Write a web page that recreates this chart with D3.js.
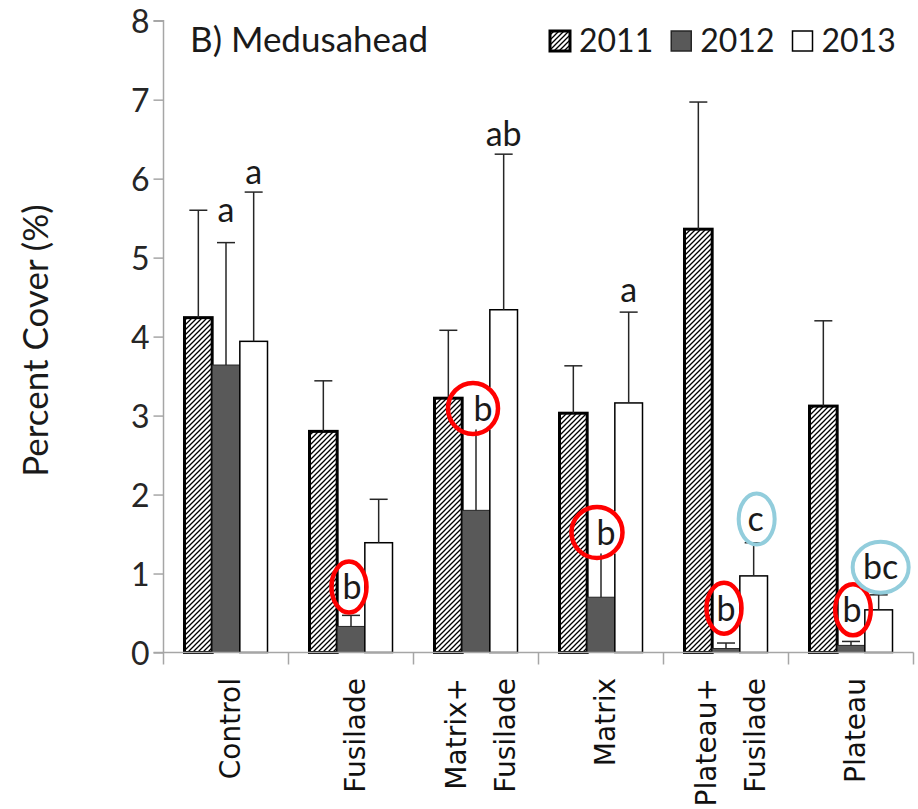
<!DOCTYPE html>
<html>
<head>
<meta charset="utf-8">
<script src="https://cdn.jsdelivr.net/npm/d3@7"></script>
<style>
  body { margin: 0; background: #fff; }
  svg { display: block; }
</style>
</head>
<body>
<svg width="918" height="809"></svg>
<script>
// datos
const categories = ["Control", "Fusilade", "Matrix+\nFusilade", "Matrix", "Plateau+\nFusilade", "Plateau"];
const years = ["2011", "2012", "2013"];
const cover2011 = [4.24, 2.80, 3.22, 3.03, 5.36, 3.12];
const cover2012 = [3.64, 0.33, 1.80, 0.70, 0.05, 0.09];
const cover2013 = [3.94, 1.39, 4.34, 3.16, 0.97, 0.54];
const err2011 = [1.36, 0.64, 0.86, 0.60, 1.61, 1.08];
const err2012 = [1.55, 0.14, 1.32, 0.85, 0.07, 0.05];
const err2013 = [1.89, 0.55, 1.97, 1.15, 0.42, 0.19];
const yTicks = [0, 1, 2, 3, 4, 5, 6, 7, 8];

// letras de significancia (posicion en unidades del eje y)
const letters = [
  { cat: "Control", year: "2012", text: "a", at: 5.56 },
  { cat: "Control", year: "2013", text: "a", at: 6.04 },
  { cat: "Matrix+\nFusilade", year: "2013", text: "ab", at: 6.52 },
  { cat: "Matrix", year: "2013", text: "a", at: 4.54 }
];
const rings = [
  { cat: "Fusilade", year: "2012", text: "b", at: 0.83, color: "red", rx: 17.5, dx: -2, tx: 1 },
  { cat: "Matrix+\nFusilade", year: "2012", text: "b", at: 3.09, color: "red", rx: 25, dx: -3, tx: 7 },
  { cat: "Matrix", year: "2012", text: "b", at: 1.52, color: "red", rx: 25.5, dx: -4, tx: 5 },
  { cat: "Plateau+\nFusilade", year: "2012", text: "b", at: 0.56, color: "red", rx: 17.5, dx: -2, tx: 0 },
  { cat: "Plateau", year: "2012", text: "b", at: 0.54, color: "red", rx: 17.8, dx: 2, tx: 1 },
  { cat: "Plateau+\nFusilade", year: "2013", text: "c", at: 1.69, color: "blue", rx: 18, dx: 3, tx: 2 },
  { cat: "Plateau", year: "2013", text: "bc", at: 1.08, color: "blue", rx: 28, dx: 2, tx: 2 }
];

const svg = d3.select("svg");
const font = "Lato, 'Open Sans', sans-serif";

const y = d3.scaleLinear().domain([0, 8]).range([652.5, 20.7]);
const x0 = d3.scaleBand().domain(categories).range([163.5, 913.5]).padding(0);
const groupW = x0.bandwidth() * 0.664;
const x1 = d3.scaleBand().domain(years).range([0, groupW]);
const off = (x0.bandwidth() - groupW) / 2;
const xBar = (c, yr) => x0(c) + off + x1(yr);
const xMid = (c, yr) => xBar(c, yr) + x1.bandwidth() / 2;

const series = [cover2011, cover2012, cover2013];
const errs = [err2011, err2012, err2013];
const rows = [];
categories.forEach((c, i) => years.forEach((yr, j) => {
  rows.push({ cat: c, year: yr, v: series[j][i], e: errs[j][i] });
}));

// patron rayado para 2011
const defs = svg.append("defs");
const pat = defs.append("pattern")
  .attr("id", "hatch")
  .attr("patternUnits", "userSpaceOnUse")
  .attr("width", 5).attr("height", 5);
pat.append("rect").attr("width", 5).attr("height", 5).attr("fill", "#fff");
pat.append("path")
  .attr("d", "M0,5 L5,0 M-1,1 L1,-1 M4,6 L6,4")
  .attr("stroke", "#000").attr("stroke-width", 1.3);

const barStyle = {
  "2011": { fill: "url(#hatch)", stroke: "#000", sw: 3 },
  "2012": { fill: "#595959", stroke: "#262626", sw: 1 },
  "2013": { fill: "#fff", stroke: "#000", sw: 1.5 }
};

// barras
svg.append("g").selectAll("rect")
  .data(rows)
  .join("rect")
  .attr("x", d => xBar(d.cat, d.year))
  .attr("y", d => y(d.v))
  .attr("width", x1.bandwidth())
  .attr("height", d => y(0) - y(d.v))
  .attr("fill", d => barStyle[d.year].fill)
  .attr("stroke", d => barStyle[d.year].stroke)
  .attr("stroke-width", d => barStyle[d.year].sw);

// barras de error (solo hacia arriba)
const eb = svg.append("g").attr("stroke", "#262626").attr("stroke-width", 1.5);
eb.selectAll("line.v")
  .data(rows)
  .join("line")
  .attr("class", "v")
  .attr("x1", d => xMid(d.cat, d.year)).attr("x2", d => xMid(d.cat, d.year))
  .attr("y1", d => y(d.v)).attr("y2", d => y(d.v + d.e));
eb.selectAll("line.cap")
  .data(rows)
  .join("line")
  .attr("class", "cap")
  .attr("x1", d => xMid(d.cat, d.year) - 9).attr("x2", d => xMid(d.cat, d.year) + 9)
  .attr("y1", d => y(d.v + d.e)).attr("y2", d => y(d.v + d.e));

// eje y
const yAxis = svg.append("g")
  .attr("transform", `translate(${x0.range()[0]},0)`)
  .call(d3.axisLeft(y).tickValues(yTicks).tickSize(10).tickPadding(4).tickFormat(d3.format("d")));
yAxis.select(".domain").attr("stroke", "#a6a6a6").attr("stroke-width", 1.5).attr("d", `M-10,${y(8)}H0V${y(0)}`);
yAxis.selectAll(".tick line").attr("stroke", "#a6a6a6").attr("stroke-width", 1.5);
yAxis.selectAll(".tick text")
  .attr("font-family", font).attr("font-size", 32).attr("fill", "#262626").attr("dy", "0.36em");

// eje x
const xg = svg.append("g");
xg.append("line")
  .attr("x1", x0.range()[0] - 10).attr("x2", x0.range()[1])
  .attr("y1", y(0)).attr("y2", y(0))
  .attr("stroke", "#a6a6a6").attr("stroke-width", 1.5);
const bounds = categories.map(c => x0(c)).concat([x0.range()[1]]);
xg.selectAll("line.tk")
  .data(bounds)
  .join("line")
  .attr("class", "tk")
  .attr("x1", d => d).attr("x2", d => d)
  .attr("y1", y(0)).attr("y2", y(0) + 12)
  .attr("stroke", "#a6a6a6").attr("stroke-width", 1.5);

categories.forEach(c => {
  const lines = c.split("\n");
  const cx = x0(c) + x0.bandwidth() / 2;
  lines.forEach((t, i) => {
    const bx = cx + 14 + (i - (lines.length - 1) / 2) * 49;
    xg.append("text")
      .attr("transform", `translate(${bx},678) rotate(-90)`)
      .attr("text-anchor", "end")
      .attr("font-family", "'DejaVu Sans', Verdana, sans-serif")
      .attr("font-size", 28)
      .attr("fill", "#111")
      .text(t);
  });
});

// titulo del eje y
svg.append("text")
  .attr("transform", `translate(48,${(y(0) + y(8)) / 2 + 4}) rotate(-90)`)
  .attr("text-anchor", "middle")
  .attr("font-family", font).attr("font-size", 35).attr("fill", "#1a1a1a")
  .text("Percent Cover (%)");

// titulo del panel
svg.append("text")
  .attr("x", 190).attr("y", 52)
  .attr("font-family", font).attr("font-size", 35).attr("fill", "#1a1a1a")
  .text("B) Medusahead");

// leyenda
let lx = 550;
years.forEach(yr => {
  const st = barStyle[yr];
  svg.append("rect")
    .attr("x", lx).attr("y", 31).attr("width", 20).attr("height", 20)
    .attr("fill", st.fill).attr("stroke", st.stroke).attr("stroke-width", yr === "2011" ? 3 : 1.5);
  const t = svg.append("text")
    .attr("x", lx + 29).attr("y", 51.5)
    .attr("font-family", font).attr("font-size", 32).attr("fill", "#1a1a1a")
    .text(yr);
  lx = lx + 29 + t.node().getComputedTextLength() + 18;
});

// letras simples
svg.append("g").selectAll("text")
  .data(letters)
  .join("text")
  .attr("x", d => xMid(d.cat, d.year))
  .attr("y", d => y(d.at))
  .attr("dy", "0.25em")
  .attr("text-anchor", "middle")
  .attr("font-family", font).attr("font-size", 34).attr("fill", "#1a1a1a")
  .text(d => d.text);

// letras encerradas en circulo (con fondo blanco detras del texto)
const rg = svg.append("g").selectAll("g")
  .data(rings)
  .join("g")
  .attr("transform", d => `translate(${xMid(d.cat, d.year)},${y(d.at)})`);
rg.append("rect")
  .attr("x", d => Math.min(-12, d.tx - d.text.length * 10))
  .attr("y", -21).attr("height", 42)
  .attr("width", d => d.tx + d.text.length * 10 + 2 - Math.min(-12, d.tx - d.text.length * 10))
  .attr("fill", "#fff");
rg.append("text")
  .attr("x", d => d.tx)
  .attr("dy", "0.36em")
  .attr("text-anchor", "middle")
  .attr("font-family", font).attr("font-size", 34).attr("fill", "#1a1a1a")
  .text(d => d.text);
rg.append("ellipse")
  .attr("cx", d => d.dx)
  .attr("rx", d => d.rx).attr("ry", 25.5)
  .attr("fill", "none")
  .attr("stroke", d => d.color === "red" ? "#ff0000" : "#92cddc")
  .attr("stroke-width", d => d.color === "red" ? 4.5 : 4);
</script>
</body>
</html>
